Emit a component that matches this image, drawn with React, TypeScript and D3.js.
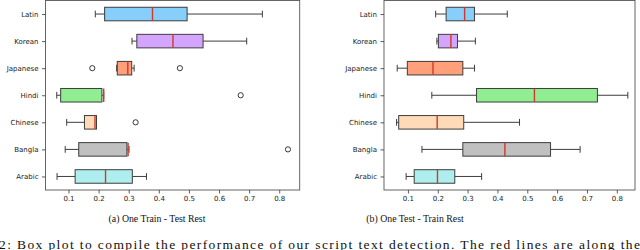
import React, { useEffect, useRef } from 'react'
import * as d3 from 'd3'

// scripts, top to bottom
const scripts = ['Latin', 'Korean', 'Japanese', 'Hindi', 'Chinese', 'Bangla', 'Arabic']
const boxColors = ['#87cefa', '#d4a5ff', '#ffa07a', '#90ee90', '#ffdab9', '#c0c0c0', '#afeeee']

// [whisker low, q1, median, q3, whisker high] per script
const trainStats = [
  [0.189, 0.22, 0.379, 0.494, 0.744],
  [0.311, 0.327, 0.447, 0.547, 0.692],
  [0.26, 0.262, 0.297, 0.31, 0.318],
  [0.061, 0.074, 0.217, 0.211, 0.217],
  [0.094, 0.153, 0.188, 0.193, 0.193],
  [0.089, 0.134, 0.298, 0.294, 0.301],
  [0.062, 0.122, 0.223, 0.312, 0.359],
]
const trainOutliers = [[], [], [0.179, 0.47], [0.672], [0.323], [0.829], []]

const testStats = [
  [0.193, 0.228, 0.29, 0.323, 0.433],
  [0.197, 0.202, 0.244, 0.266, 0.326],
  [0.064, 0.098, 0.184, 0.284, 0.323],
  [0.18, 0.33, 0.524, 0.735, 0.837],
  [0.062, 0.069, 0.198, 0.287, 0.474],
  [0.147, 0.284, 0.425, 0.578, 0.677],
  [0.094, 0.121, 0.199, 0.257, 0.347],
]
const testOutliers = [[], [], [], [], [], [], []]

const xTicks = [0.1, 0.2, 0.3, 0.4, 0.5, 0.6, 0.7, 0.8]
const domainA = [0.0236, 0.868]
const domainB = [0.0198, 0.861]

const captionA = '(a) One Train - Test Rest'
const captionB = '(b) One Test - Train Rest'
const bodyText =
  '2:  Box plot to compile the performance of our script text detection. The red lines are along the'

const top = 0.5
const bottom = 190
const edge = '#3d3d3d'
const tickFont = '"DejaVu Sans", sans-serif'

interface PanelProps {
  left: number
  right: number
  domain: number[]
  stats: number[][]
  outliers: number[][]
  caption: string
  captionX: number
}

const Panel: React.FC<PanelProps> = ({ left, right, domain, stats, outliers, caption, captionX }) => {
  const xAxisRef = useRef<SVGGElement | null>(null)
  const yAxisRef = useRef<SVGGElement | null>(null)

  const x = d3.scaleLinear().domain(domain).range([left, right])
  const y = d3.scalePoint().domain(scripts).range([top, bottom]).padding(0.5)
  const boxH = y.step() * 0.5
  const capH = boxH / 2

  useEffect(() => {
    if (!xAxisRef.current || !yAxisRef.current) return
    const style = (g: d3.Selection<SVGGElement, unknown, null, undefined>) => {
      g.select('.domain').remove()
      g.selectAll('.tick line').attr('stroke', '#333').attr('stroke-width', 0.8)
      g.selectAll('.tick text')
        .attr('fill', '#222')
        .style('font-family', tickFont)
        .style('font-size', '7px')
    }
    d3.select(xAxisRef.current)
      .call(
        d3
          .axisBottom(x)
          .tickValues(xTicks)
          .tickFormat(d3.format('.1f'))
          .tickSize(3.5)
          .tickPadding(3)
      )
      .call(style)
    d3.select(yAxisRef.current)
      .call(d3.axisLeft(y).tickSize(3.5).tickPadding(3.5))
      .call(style)
  }, [left, right])

  return (
    <g>
      {stats.map((s, i) => {
        const cy = y(scripts[i])!
        const [lo, q1, med, q3, hi] = s
        return (
          <g key={scripts[i]} stroke={edge} strokeWidth={1}>
            <line x1={x(lo)} x2={x(q1)} y1={cy} y2={cy} />
            <line x1={x(q3)} x2={x(hi)} y1={cy} y2={cy} />
            <line x1={x(lo)} x2={x(lo)} y1={cy - capH / 2} y2={cy + capH / 2} />
            <line x1={x(hi)} x2={x(hi)} y1={cy - capH / 2} y2={cy + capH / 2} />
            <rect
              x={x(q1)}
              y={cy - boxH / 2}
              width={Math.max(0, x(q3) - x(q1))}
              height={boxH}
              fill={boxColors[i]}
            />
            <line
              x1={x(med)}
              x2={x(med)}
              y1={cy - boxH / 2}
              y2={cy + boxH / 2}
              stroke="#cc3a2c"
              strokeWidth={1.4}
            />
            {outliers[i].map((o, j) => (
              <circle key={j} cx={x(o)} cy={cy} r={2.6} fill="none" stroke="#222" strokeWidth={0.9} />
            ))}
          </g>
        )
      })}
      <rect
        x={left}
        y={top}
        width={right - left}
        height={bottom - top}
        fill="none"
        stroke="#555"
        strokeWidth={0.9}
      />
      <g ref={xAxisRef} transform={`translate(0,${bottom})`} />
      <g ref={yAxisRef} transform={`translate(${left},0)`} />
      <text
        x={captionX}
        y={221.5}
        textAnchor="middle"
        fontFamily='"Liberation Serif", serif'
        fontSize={9.8}
        fill="#111"
      >
        {caption}
      </text>
    </g>
  )
}

const App: React.FC = () => {
  return (
    <svg
      width={640}
      height={250}
      viewBox="0 0 640 250"
      style={{ position: 'absolute', left: 0, top: 0, background: '#fff' }}
    >
      <rect width={640} height={250} fill="#fff" />
      <Panel
        left={45.5}
        right={299.7}
        domain={domainA}
        stats={trainStats}
        outliers={trainOutliers}
        caption={captionA}
        captionX={157}
      />
      <Panel
        left={384}
        right={635}
        domain={domainB}
        stats={testStats}
        outliers={testOutliers}
        caption={captionB}
        captionX={415}
      />
      <text
        x={-1}
        y={248.5}
        fontFamily='"Liberation Serif", serif'
        fontSize={13.5}
        fill="#111"
        textLength={641}
        lengthAdjust="spacing"
      >
        {bodyText}
      </text>
    </svg>
  )
}

export default App
